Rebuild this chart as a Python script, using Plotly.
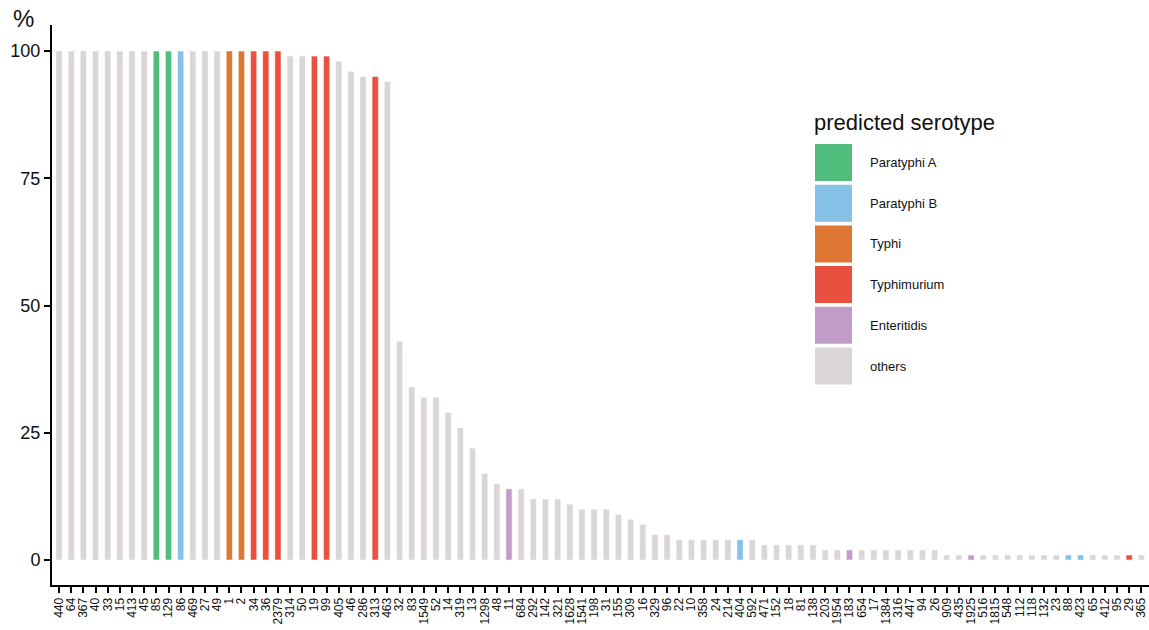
import plotly.graph_objects as go

# ---------------- data ----------------
st_labels = ["440", "64", "367", "40", "33", "15", "413", "45", "85", "129", "86", "469", "27", "49",
             "1", "2", "34", "36", "2379", "314", "50", "19", "99", "405", "46", "286", "313", "463",
             "32", "83", "1549", "52", "14", "319", "13", "1298", "48", "11", "684", "292", "142",
             "321", "1628", "1541", "198", "31", "155", "309", "16", "329", "96", "22", "10", "358",
             "24", "214", "404", "592", "471", "152", "18", "81", "138", "203", "1954", "183", "654",
             "17", "1384", "316", "447", "94", "26", "909", "435", "1925", "516", "1815", "548", "112",
             "118", "132", "23", "88", "423", "65", "412", "95", "29", "365"]

pct_values = [100, 100, 100, 100, 100, 100, 100, 100, 100, 100, 100, 100, 100, 100,
              100, 100, 100, 100, 100, 99, 99, 99, 99, 98, 96, 95, 95, 94,
              43, 34, 32, 32, 29, 26, 22, 17, 15, 14, 14, 12, 12,
              12, 11, 10, 10, 10, 9, 8, 7, 5, 5, 4, 4, 4,
              4, 4, 4, 4, 3, 3, 3, 3, 3, 2, 2, 2, 2,
              2, 2, 2, 2, 2, 2, 1, 1, 1, 1, 1, 1, 1,
              1, 1, 1, 1, 1, 1, 1, 1, 1, 1]

serotypes = ["others"] * 8 + ["Paratyphi A", "Paratyphi A", "Paratyphi B"] + ["others"] * 3 + \
            ["Typhi", "Typhi", "Typhimurium", "Typhimurium", "Typhimurium", "others", "others",
             "Typhimurium", "Typhimurium", "others", "others", "others", "Typhimurium", "others"] + \
            ["others"] * 9 + ["Enteritidis"] + ["others"] * 18 + ["Paratyphi B"] + ["others"] * 8 + \
            ["Enteritidis"] + ["others"] * 9 + ["Enteritidis"] + ["others"] * 7 + \
            ["Paratyphi B", "Paratyphi B", "others", "others", "others", "Typhimurium", "others"]

legend_order = ["Paratyphi A", "Paratyphi B", "Typhi", "Typhimurium", "Enteritidis", "others"]
legend_colors = ["#50BD7D", "#86C1E8", "#DF7734", "#EA5040", "#C29CC8", "#DAD5D6"]
y_ticks = [0, 25, 50, 75, 100]

color_map = dict(zip(legend_order, legend_colors))
bar_colors = [color_map[s] for s in serotypes]

FONT = "Liberation Sans, Arial, Helvetica, sans-serif"

fig = go.Figure()
fig.add_trace(go.Bar(
    x=st_labels, y=pct_values,
    marker=dict(color=bar_colors, line=dict(color="white", width=0.6)),
    width=0.52, showlegend=False,
    customdata=serotypes,
    hovertemplate="ST%{x}<br>%{y}%<br>%{customdata}<extra></extra>",
))

# plot-area geometry (pixels) used for the hand-drawn legend
W, H = 1149, 630
L, R, T, B = 52, 0, 25, 45
pw, ph = W - L - R, H - T - B


def px(xp):
    return (xp - L) / pw


def py(yp):
    return (H - B - yp) / ph


shapes = []
annotations = []

# legend title
annotations.append(dict(x=px(812), y=py(122), xref="paper", yref="paper", text="predicted serotype",
                        showarrow=False, xanchor="left", yanchor="middle",
                        font=dict(family=FONT, size=22, color="#111111")))
for i, (name, col) in enumerate(zip(legend_order, legend_colors)):
    top = 144 + i * 40.7
    shapes.append(dict(type="rect", xref="paper", yref="paper",
                       x0=px(815), x1=px(852), y0=py(top + 37), y1=py(top),
                       fillcolor=col, line=dict(width=0)))
    annotations.append(dict(x=px(868), y=py(top + 18.5), xref="paper", yref="paper", text=name,
                            showarrow=False, xanchor="left", yanchor="middle",
                            font=dict(family=FONT, size=13, color="#111111")))

# "%" axis title
annotations.append(dict(x=px(23), y=py(18), xref="paper", yref="paper", text="%",
                        showarrow=False, xanchor="center", yanchor="middle",
                        font=dict(family=FONT, size=24, color="#111111")))

fig.update_layout(
    width=W, height=H,
    margin=dict(l=L, r=R, t=T, b=B, pad=0),
    paper_bgcolor="white", plot_bgcolor="white",
    font=dict(family=FONT, color="#111111"),
    shapes=shapes, annotations=annotations,
    bargap=0.48,
)
fig.update_xaxes(
    type="category", range=[-0.58, 89.63],
    tickmode="array", tickvals=st_labels, ticktext=st_labels,
    showline=True, linecolor="black", linewidth=2,
    ticks="outside", ticklen=6, tickwidth=1.5, tickcolor="black",
    tickangle=-90, tickfont=dict(family=FONT, size=12, color="#111111"),
    showgrid=False, zeroline=False, automargin=False,
)
fig.update_yaxes(
    range=[-4.9, 105.1], tickvals=y_ticks, ticktext=[str(v) for v in y_ticks],
    showline=True, linecolor="black", linewidth=2,
    ticks="outside", ticklen=6, tickwidth=1.5, tickcolor="black",
    tickfont=dict(family=FONT, size=18, color="#111111"),
    showgrid=False, zeroline=False, automargin=False,
)

fig.write_html("out.html")
